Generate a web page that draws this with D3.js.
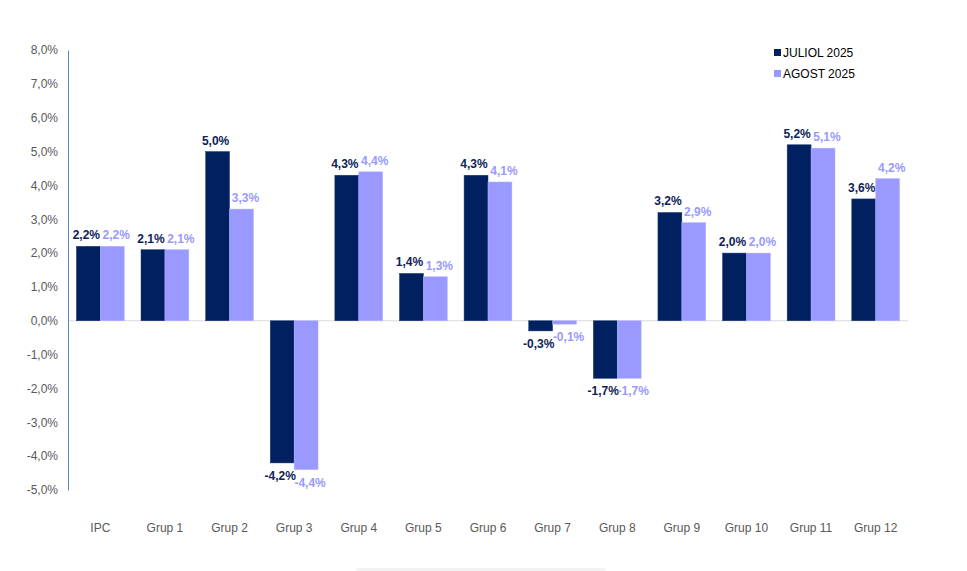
<!DOCTYPE html>
<html>
<head>
<meta charset="utf-8">
<script src="https://cdn.jsdelivr.net/npm/d3@7"></script>
<style>
  body { margin: 0; background: #fff; }
  text { font-family: "Liberation Sans", Arial, sans-serif; }
</style>
</head>
<body>
<div id="chart-container"></div>
<script>
// data
const categories = ["IPC", "Grup 1", "Grup 2", "Grup 3", "Grup 4", "Grup 5", "Grup 6", "Grup 7", "Grup 8", "Grup 9", "Grup 10", "Grup 11", "Grup 12"];
const seriesNames = ["JULIOL 2025", "AGOST 2025"];
const juliol = [2.2, 2.1, 5.0, -4.2, 4.3, 1.4, 4.3, -0.3, -1.7, 3.2, 2.0, 5.2, 3.6];
const agost = [2.2, 2.1, 3.3, -4.4, 4.4, 1.3, 4.1, -0.1, -1.7, 2.9, 2.0, 5.1, 4.2];
const yTicks = [8, 7, 6, 5, 4, 3, 2, 1, 0, -1, -2, -3, -4, -5];

const colors = ["#002060", "#9999FF"];
const labelColors = ["#0D2357", "#9999FF"];

const width = 967, height = 571;
const marginLeft = 68, marginRight = 59, marginTop = 50, marginBottom = 81;
const graphWidth = width - marginLeft - marginRight;
const graphHeight = height - marginTop - marginBottom;

const fmt = v => v.toFixed(1).replace(".", ",") + "%";

const svg = d3.select("#chart-container")
  .append("svg")
  .attr("width", width)
  .attr("height", height);

const g = svg.append("g")
  .attr("transform", "translate(" + marginLeft + "," + marginTop + ")");

// scales
const x = d3.scaleBand()
  .domain(categories)
  .range([0, graphWidth])
  .paddingInner(0.26)
  .paddingOuter(0.13);

const x1 = d3.scaleBand()
  .domain(seriesNames)
  .range([0, x.bandwidth()]);

const y = d3.scaleLinear()
  .domain([-5, 8])
  .range([graphHeight, 0]);

// zero line
g.append("line")
  .attr("x1", 0).attr("x2", graphWidth)
  .attr("y1", y(0)).attr("y2", y(0))
  .attr("stroke", "#D9D9D9")
  .attr("stroke-width", 1);

// y axis
const yAxis = g.append("g")
  .call(d3.axisLeft(y).tickValues(yTicks).tickSize(0).tickPadding(10).tickFormat(fmt));
yAxis.select(".domain").attr("stroke", "#5B87C5");
yAxis.selectAll("text")
  .style("font-size", "12px")
  .attr("fill", "#595959");

// category labels
g.append("g")
  .selectAll("text")
  .data(categories)
  .enter()
  .append("text")
  .attr("x", d => x(d) + x.bandwidth() / 2)
  .attr("y", graphHeight + 42)
  .attr("text-anchor", "middle")
  .style("font-size", "12px")
  .attr("fill", "#595959")
  .text(d => d);

// bars
const series = [juliol, agost];
series.forEach((vals, si) => {
  const name = seriesNames[si];
  g.selectAll(".bar-" + si)
    .data(vals)
    .enter()
    .append("rect")
    .attr("x", (d, i) => x(categories[i]) + x1(name))
    .attr("y", d => y(Math.max(0, d)))
    .attr("width", x1.bandwidth())
    .attr("height", d => Math.abs(y(d) - y(0)))
    .attr("fill", colors[si])
    .attr("stroke", si === 0 ? "#1F3A78" : "#B3B3FF")
    .attr("stroke-width", 0.5);

  g.selectAll(".lab-" + si)
    .data(vals)
    .enter()
    .append("text")
    .attr("x", (d, i) => x(categories[i]) + x1(name) + x1.bandwidth() / 2 + (si === 0 ? -2 : 4))
    .attr("y", d => d >= 0 ? y(d) - 7 : y(d) + 17)
    .attr("text-anchor", "middle")
    .style("font-size", "12px")
    .style("font-weight", "bold")
    .attr("fill", labelColors[si])
    .text(d => fmt(d));
});

// legend
const legend = svg.append("g")
  .attr("transform", "translate(774,53)");
seriesNames.forEach((s, i) => {
  legend.append("rect")
    .attr("x", 0).attr("y", i * 21 - 4)
    .attr("width", 7).attr("height", 7)
    .attr("fill", colors[i]);
  legend.append("text")
    .attr("x", 9).attr("y", i * 21 + 4)
    .style("font-size", "12px")
    .attr("fill", "#000")
    .text(s);
});

// faint scroll strip at bottom
svg.append("rect")
  .attr("x", 356).attr("y", 568)
  .attr("width", 250).attr("height", 8)
  .attr("rx", 4)
  .attr("fill", "#F2F2F2");
</script>
</body>
</html>
